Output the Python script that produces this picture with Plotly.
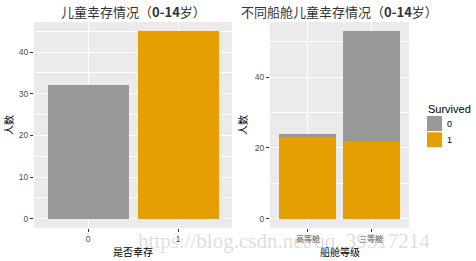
import plotly.graph_objects as go
from plotly.subplots import make_subplots

# Data
surv_cats = ["0", "1"]
surv_counts = [32, 45]
class_cats = ["高等舱", "三等舱"]
class_surv1 = [23, 22]
class_surv0 = [1, 31]
legend_levels = ["0", "1"]
colors = {"0": "#999999", "1": "#E69F00"}

W, H = 476, 261
def px(x): return x / W
def py(y): return 1 - y / H

fig = make_subplots(rows=1, cols=2)

fig.add_trace(go.Bar(x=surv_cats, y=surv_counts, width=0.9,
                     marker=dict(color=[colors[c] for c in surv_cats], line=dict(width=0)),
                     showlegend=False), row=1, col=2 - 1)
fig.add_trace(go.Bar(x=class_cats, y=class_surv1, width=0.9, name="1",
                     marker=dict(color=colors["1"], line=dict(width=0)), showlegend=False), row=1, col=2)
fig.add_trace(go.Bar(x=class_cats, y=class_surv0, width=0.9, name="0",
                     marker=dict(color=colors["0"], line=dict(width=0)), showlegend=False), row=1, col=2)

font_cjk = "Noto Sans CJK SC, Noto Sans, sans-serif"
tickfont = dict(family="Liberation Sans, Arial", size=8.5, color="#4D4D4D")
common_y = dict(showgrid=True, gridcolor="white", gridwidth=1.1, zeroline=False,
                ticks="outside", ticklen=3, tickcolor="#333333", tickfont=tickfont,
                showline=False)
common_x = dict(type="category", showgrid=True, gridcolor="white", gridwidth=1.1,
                ticks="outside", ticklen=3, tickcolor="#333333", showline=False,
                range=[-0.6, 1.6])

fig.update_layout(
    width=W, height=H, margin=dict(l=0, r=0, t=0, b=0),
    paper_bgcolor="white", plot_bgcolor="#EBEBEB",
    barmode="stack", bargap=0.1, showlegend=False,
    xaxis=dict(domain=[px(34), px(232)], tickfont=tickfont, **common_x),
    yaxis=dict(domain=[py(228), py(22)], range=[-2.25, 47.25], dtick=10,
               minor=dict(showgrid=True, gridcolor="white", gridwidth=0.5, dtick=5, tick0=5),
               **common_y),
    xaxis2=dict(domain=[px(270), px(409)],
                tickfont=dict(family=font_cjk, size=8, color="#4D4D4D"), **common_x),
    yaxis2=dict(domain=[py(228), py(22)], range=[-2.65, 55.65], dtick=20,
                minor=dict(showgrid=True, gridcolor="white", gridwidth=0.5, dtick=10, tick0=10),
                **common_y),
)

# Manual legend (ggplot style keys)
fig.add_annotation(text="Survived", x=px(426), y=py(109), xref="paper", yref="paper",
                   showarrow=False, xanchor="left", yanchor="middle",
                   font=dict(family="Liberation Sans, Arial", size=11, color="#000"))
for i, lev in enumerate(legend_levels):
    y0 = 116 + i * 16.3
    fig.add_shape(type="rect", xref="paper", yref="paper",
                  x0=px(427), x1=px(442), y0=py(y0), y1=py(y0 + 15),
                  fillcolor=colors[lev], line=dict(width=0))
    fig.add_annotation(text=lev, x=px(445), y=py(y0 + 8), xref="paper", yref="paper",
                       showarrow=False, xanchor="left", yanchor="middle",
                       font=dict(family="Liberation Sans, Arial", size=9, color="#000"))

ann = [
    dict(text="儿童幸存情况（<b>0-14</b>岁）", x=px(133), y=py(11), size=13, color="#333333"),
    dict(text="不同船舱儿童幸存情况（<b>0-14</b>岁）", x=px(339), y=py(11), size=13, color="#333333"),
    dict(text="是否幸存", x=px(133), y=py(251), size=10, color="#000"),
    dict(text="船舱等级", x=px(340), y=py(251), size=10, color="#000"),
]
for a in ann:
    fig.add_annotation(text=a["text"], x=a["x"], y=a["y"], xref="paper", yref="paper",
                       showarrow=False, xanchor="center", yanchor="middle",
                       font=dict(family=font_cjk, size=a["size"], color=a["color"]))
for xx in [8, 242]:
    fig.add_annotation(text="人数", x=px(xx), y=py(125), xref="paper", yref="paper",
                       showarrow=False, textangle=-90, xanchor="center", yanchor="middle",
                       font=dict(family=font_cjk, size=10, color="#000"))

fig.add_annotation(text="https://blog.csdn.net/qq_39317214", x=px(136), y=py(241),
                   xref="paper", yref="paper", showarrow=False, xanchor="left", yanchor="middle",
                   font=dict(family="Liberation Serif, serif", size=21, color="rgba(190,190,190,0.5)"))

fig.write_html("out.html")
